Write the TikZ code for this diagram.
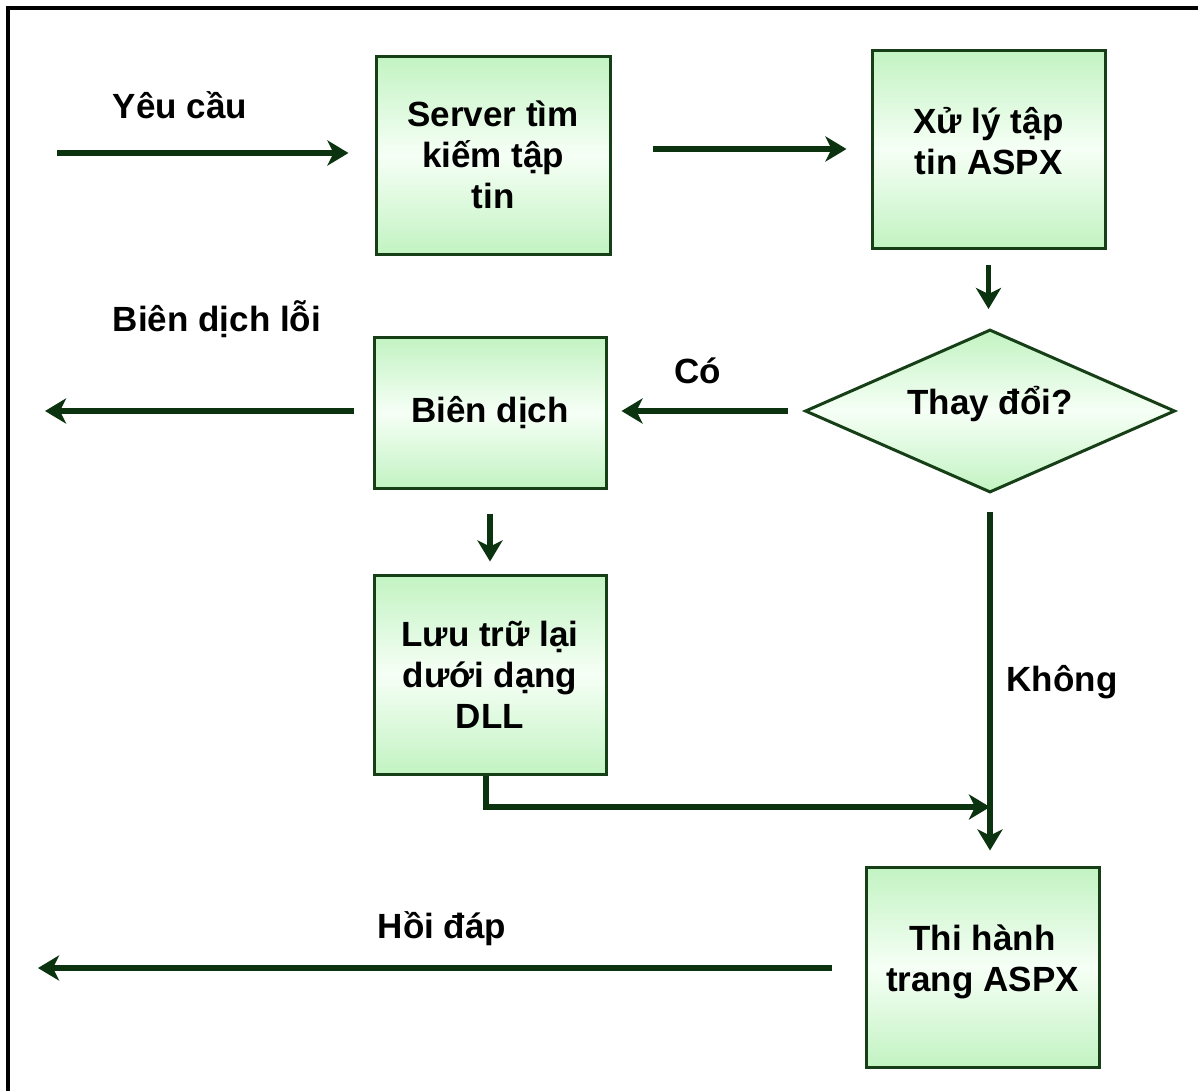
\documentclass[tikz,border=0pt]{standalone}
\usepackage{fontspec}
\setmainfont{Liberation Sans}
\usetikzlibrary{arrows.meta,shapes.geometric}

\definecolor{arrowgreen}{HTML}{0B3310}
\definecolor{edgegreen}{HTML}{173F17}
\definecolor{fillgreen}{HTML}{C2F3C2}
\definecolor{fillmid}{HTML}{F6FFF6}

\tikzset{
  txt/.style={font=\fontsize{35}{41}\selectfont\bfseries, text=black, align=center},
  stepbox/.style={txt, draw=edgegreen, line width=3pt, rectangle, inner sep=0pt,
    top color=fillgreen, bottom color=fillgreen, middle color=fillmid},
  decide/.style={draw=edgegreen, line width=3pt, diamond, inner sep=0pt,
    shape aspect=2.27, minimum width=370pt, minimum height=163pt,
    top color=fillgreen, bottom color=fillgreen, middle color=fillmid},
  arr/.style={draw=arrowgreen, line width=5.5pt,
    -{Stealth[length=21pt,width=25pt,inset=6pt]}},
  lbl/.style={txt}
}

\begin{document}
\begin{tikzpicture}[x=1pt,y=-1pt]
  \useasboundingbox (0,0) rectangle (1198,1090);
  \fill[white] (0,0) rectangle (1198,1090);
  % outer frame (top and left edges)
  \draw[black, line width=3.5pt] (8,1095) -- (8,8) -- (1205,8);

  % process steps
  \node[stepbox, minimum width=234pt, minimum height=198pt] (search) at (493,155)
    {Server tìm\\kiếm tập\\tin};
  \node[stepbox, minimum width=233pt, minimum height=198pt] (parse) at (988.5,149) {};
  \node[txt] (parsetext) at ([yshift=8pt]parse.center) {Xử lý tập\\tin ASPX};
  \node[decide] (changed) at (990,411) {};
  \node[txt] (changedtext) at ([yshift=7pt]changed.center) {Thay đổi?};
  \node[stepbox, minimum width=232pt, minimum height=151pt] (compile) at (490,412.5)
    {Biên dịch};
  \node[stepbox, minimum width=232pt, minimum height=199pt] (store) at (490,674.5)
    {Lưu trữ lại\\dưới dạng\\DLL};
  \node[stepbox, minimum width=233pt, minimum height=200pt] (run) at (982.5,967) {};
  \node[txt] (runtext) at ([yshift=5pt]run.center) {Thi hành\\trang ASPX};

  % free ends of the connectors
  \coordinate (request) at (57,153);
  \coordinate (errout) at (45,411);
  \coordinate (reply) at (38,968);
  \coordinate (join) at (990,807);

  % connectors
  \draw[arr, shorten >=26pt] (request) -- (request -| search.west);
  \draw[arr, shorten <=41pt, shorten >=24pt] (search.east |- parse.west) -- (parse.west);
  \draw[arr, shorten <=15pt, shorten >=19pt] (parse.south) -- (parse.south |- changed.north);
  \draw[arr, shorten <=16pt, shorten >=14pt] (changed.west) -- (changed.west -| compile.east);
  \draw[arr, shorten <=19pt] (compile.west |- errout) -- (errout);
  \draw[arr, shorten <=24pt, shorten >=12pt] (compile.south) -- (compile.south |- store.north);
  \draw[arr, shorten <=18pt, shorten >=15pt] (changed.south) -- (changed.south |- run.north);
  \draw[arr] ([xshift=-4pt]store.south) |- (join);
  \draw[arr, shorten <=33pt] (run.west |- reply) -- (reply);

  % connector labels
  \node[lbl] (lreq) at (180,105) {Yêu cầu};
  \node[lbl] (lerr) at (217,319) {Biên dịch lỗi};
  \node[lbl] (lyes) at (698,371) {Có};
  \node[lbl] (lno) at (1062,682) {Không};
  \node[lbl] (lreply) at (442,929) {Hồi đáp};
\end{tikzpicture}
\end{document}
